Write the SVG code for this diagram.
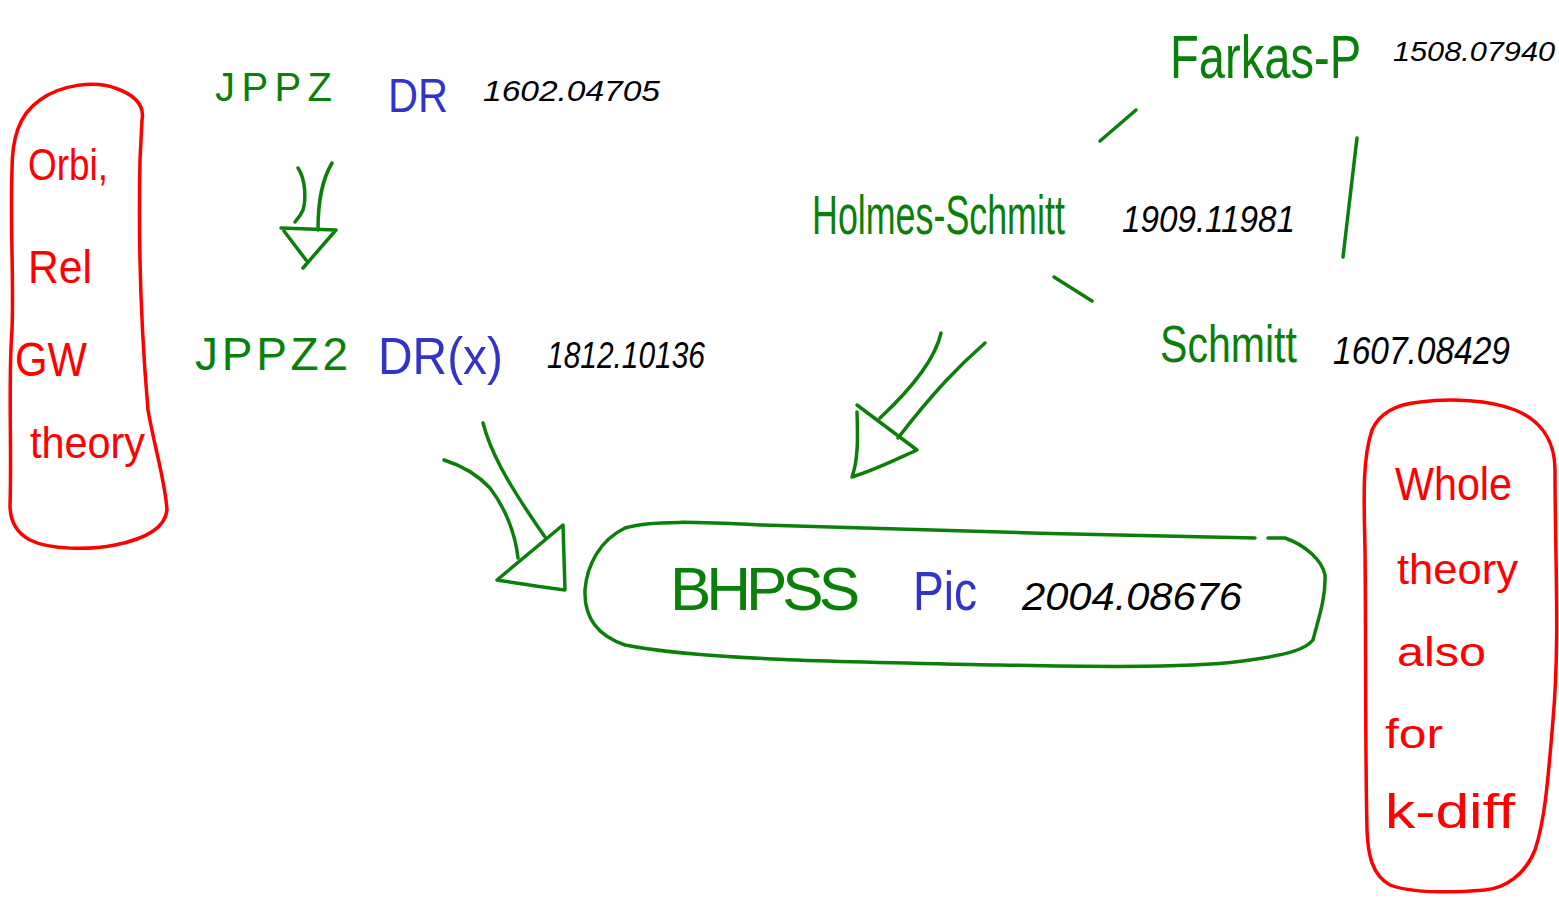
<svg xmlns="http://www.w3.org/2000/svg" width="1559" height="899" viewBox="0 0 1559 899">
<style>
text{font-family:"Liberation Sans","DejaVu Sans",sans-serif}
.g{fill:#0a800a}.b{fill:#3333cc}.k{fill:#000;font-style:italic}.r{fill:#ff0000}
.sg{fill:none;stroke:#0a800a;stroke-width:3.5;stroke-linecap:round;stroke-linejoin:round}
.sr{fill:none;stroke:#ff0000;stroke-width:3.5;stroke-linecap:round;stroke-linejoin:round}
</style>
<rect width="1559" height="899" fill="#fff"/>
<g id="left-note">
<path class="sr" d="M40,100 C60,85 95,80 115,88 C135,95 145,105 142,120 L140,160 C138,250 142,340 148,410 C155,450 165,480 167,510 C165,530 140,540 115,545 C90,550 50,550 30,540 C15,532 10,520 10,505 C12,450 8,380 12,330 C14,280 10,230 12,170 C12,140 18,115 40,100 Z"/>
<text class="r" x="28" y="180" font-size="44" textLength="80" lengthAdjust="spacingAndGlyphs">Orbi,</text>
<text class="r" x="28" y="283" font-size="46" textLength="64" lengthAdjust="spacingAndGlyphs">Rel</text>
<text class="r" x="15" y="376" font-size="48" textLength="72" lengthAdjust="spacingAndGlyphs">GW</text>
<text class="r" x="30" y="458" font-size="44" textLength="115" lengthAdjust="spacingAndGlyphs">theory</text>
</g>
<g id="right-note">
<path class="sr" d="M1420,402 C1450,398 1490,400 1515,410 C1540,420 1555,440 1555,470 C1555,560 1560,640 1553,720 C1548,780 1545,820 1535,850 C1525,875 1505,888 1485,890 C1450,893 1410,893 1390,885 C1372,875 1368,855 1367,830 C1365,740 1366,640 1365,550 C1364,500 1362,460 1372,430 C1380,412 1398,404 1420,402 Z"/>
<text class="r" x="1395" y="500" font-size="46" textLength="117" lengthAdjust="spacingAndGlyphs">Whole</text>
<text class="r" x="1397" y="584" font-size="42" textLength="121" lengthAdjust="spacingAndGlyphs">theory</text>
<text class="r" x="1397" y="666" font-size="40" textLength="89" lengthAdjust="spacingAndGlyphs">also</text>
<text class="r" x="1385" y="748" font-size="40" textLength="58" lengthAdjust="spacingAndGlyphs">for</text>
<text class="r" x="1385" y="828" font-size="48" textLength="130" lengthAdjust="spacingAndGlyphs">k-diff</text>
</g>
<g id="jppz">
<text class="g" x="215" y="101" font-size="40" textLength="117" lengthAdjust="spacing">JPPZ</text>
<text class="b" x="388" y="112" font-size="48" textLength="60" lengthAdjust="spacingAndGlyphs">DR</text>
<text class="k" x="483" y="101" font-size="30" textLength="177" lengthAdjust="spacingAndGlyphs">1602.04705</text>
</g>
<g id="jppz2">
<text class="g" x="195" y="370" font-size="46" textLength="153" lengthAdjust="spacing">JPPZ2</text>
<text class="b" x="378" y="374" font-size="52" textLength="125" lengthAdjust="spacingAndGlyphs">DR(x)</text>
<text class="k" x="547" y="368" font-size="36" textLength="158" lengthAdjust="spacingAndGlyphs">1812.10136</text>
</g>
<g id="farkas">
<text class="g" transform="translate(1170,78) scale(0.76,1)" font-size="62">Farkas-P</text>
<text class="k" x="1393" y="61" font-size="27" textLength="162" lengthAdjust="spacingAndGlyphs">1508.07940</text>
</g>
<g id="holmes-schmitt">
<text class="g" transform="translate(812,234) scale(0.64,1)" font-size="56">Holmes-Schmitt</text>
<text class="k" x="1122" y="232" font-size="36" textLength="173" lengthAdjust="spacingAndGlyphs">1909.11981</text>
</g>
<g id="schmitt">
<text class="g" transform="translate(1160,362) scale(0.79,1)" font-size="52">Schmitt</text>
<text class="k" x="1333" y="364" font-size="38" textLength="177" lengthAdjust="spacingAndGlyphs">1607.08429</text>
</g>
<g id="bhpss">
<path class="sg" d="M1255,538 C1100,535 900,530 760,525 C700,522 650,520 625,528 C600,540 587,565 585,590 C584,615 595,635 625,645 C700,660 850,662 1000,665 C1100,667 1200,668 1250,660 C1285,655 1305,650 1313,640 C1318,620 1326,598 1325,575 C1322,560 1305,545 1285,538 L1268,538"/>
<text class="g" x="670" y="610" font-size="62" textLength="190" lengthAdjust="spacing">BHPSS</text>
<text class="b" x="913" y="610" font-size="56" textLength="64" lengthAdjust="spacingAndGlyphs">Pic</text>
<text class="k" x="1022" y="610" font-size="38" textLength="220" lengthAdjust="spacingAndGlyphs">2004.08676</text>
</g>
<g id="connectors">
<path class="sg" d="M298,168 C306,180 306,200 303,210 C300,217 296,220 295,222"/>
<path class="sg" d="M332,163 C322,180 318,200 318,230"/>
<path class="sg" d="M281,228 L336,230 L303,268 M284,231 L306,260"/>
<path class="sg" d="M444,460 C460,465 475,472 490,488 C503,505 515,530 518,558"/>
<path class="sg" d="M483,423 C490,450 505,480 545,537"/>
<path class="sg" d="M497,580 L563,525 L565,590 C545,588 530,585 497,580 Z"/>
<path class="sg" d="M941,333 C935,360 910,390 880,418"/>
<path class="sg" d="M985,343 C960,365 935,390 898,438"/>
<path class="sg" d="M857,405 L917,450 C895,460 875,470 852,477 C858,460 858,440 857,412"/>
<path class="sg" d="M1100,141 L1136,110"/>
<path class="sg" d="M1054,277 L1092,301"/>
<path class="sg" d="M1357,138 L1343,257"/>
</g>
</svg>
